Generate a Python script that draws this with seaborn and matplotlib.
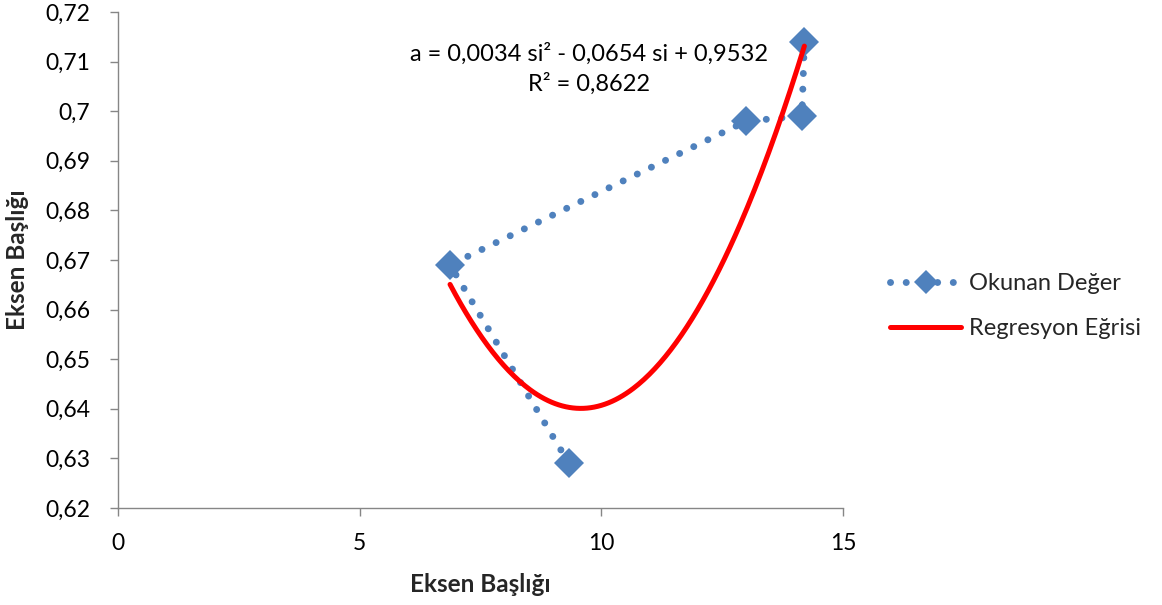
import numpy as np
import pandas as pd
import matplotlib
matplotlib.use("Agg")
import matplotlib.pyplot as plt
import seaborn as sns
from matplotlib.ticker import FuncFormatter

# Measured readings (in reading order)
si_values = [9.33, 6.87, 13.0, 14.15, 14.2]
a_values = [0.629, 0.669, 0.698, 0.699, 0.714]

# Second-order trendline coefficients: a = c2*si^2 + c1*si + c0
trend_coeffs = [0.003415, -0.0654, 0.9532]
r_squared = 0.8622

x_ticks = [0, 5, 10, 15]
y_ticks = [0.62, 0.63, 0.64, 0.65, 0.66, 0.67, 0.68, 0.69, 0.70, 0.71, 0.72]

series_label = "Okunan Değer"
trend_label = "Regresyon Eğrisi"
axis_title = "Eksen Başlığı"

sns.set_theme(style="white")
plt.rcParams["font.family"] = ["Lato", "DejaVu Sans"]

fig = plt.figure(figsize=(11.62, 6.05), dpi=100)
ax = fig.add_axes([0.1015, 0.1603, 0.624, 0.8199])

blue = "#4F81BD"
red = "#FF0000"
axis_grey = "#868686"
fs = 16.5

df = pd.DataFrame({"si": si_values, "a": a_values})
sns.lineplot(data=df, x="si", y="a", sort=False, ax=ax, color=blue,
             linewidth=5.0, linestyle=(0, (0.01, 2.25)),
             marker="D", markersize=15.5, markeredgewidth=0,
             label=series_label)
ax.lines[-1].set_dash_capstyle("round")

trend_x = np.linspace(min(si_values), max(si_values), 200)
trend_df = pd.DataFrame({"si": trend_x, "a": np.polyval(trend_coeffs, trend_x)})
sns.lineplot(data=trend_df, x="si", y="a", ax=ax, color=red, linewidth=3.6,
             label=trend_label)

eq_text = ("a = {:.4f} si² - {:.4f} si + {:.4f}\nR² = {:.4f}".format(
    trend_coeffs[0], -trend_coeffs[1], trend_coeffs[2], r_squared)).replace(".", ",")
ax.text(9.75, 0.7085, eq_text, ha="center", va="center", fontsize=17,
        color="#000000", linespacing=1.45)

ax.set_xlim(0, 15)
ax.set_ylim(0.62, 0.72)
ax.set_xticks(x_ticks)
ax.set_yticks(y_ticks)


def comma_fmt(v, pos):
    return ("%g" % round(v, 2)).replace(".", ",")


ax.xaxis.set_major_formatter(FuncFormatter(comma_fmt))
ax.yaxis.set_major_formatter(FuncFormatter(comma_fmt))
ax.tick_params(axis="both", which="major", labelsize=fs, labelcolor="#000000",
               color=axis_grey, length=6, width=1, direction="out")
ax.tick_params(axis="x", pad=12)
ax.tick_params(axis="y", pad=14)
ax.xaxis.set_ticks_position("bottom")
ax.yaxis.set_ticks_position("left")

for side in ["top", "right"]:
    ax.spines[side].set_visible(False)
for side in ["left", "bottom"]:
    ax.spines[side].set_color(axis_grey)
    ax.spines[side].set_linewidth(1)

ax.set_xlabel(axis_title, fontsize=17.5, fontweight="bold")
ax.set_ylabel(axis_title, fontsize=17.5, fontweight="bold")
ax.xaxis.set_label_coords(0.5, -0.131)
ax.yaxis.set_label_coords(-0.122, 0.5)

handles, labels = ax.get_legend_handles_labels()
ax.legend_.remove()
fig.legend(handles, labels, loc="center left", bbox_to_anchor=(0.766, 0.494),
           frameon=False, fontsize=17, handlelength=3.0, handletextpad=0.35,
           labelspacing=1.0, borderpad=0, borderaxespad=0, markerscale=0.8)

fig.savefig("out.png", dpi=100)
